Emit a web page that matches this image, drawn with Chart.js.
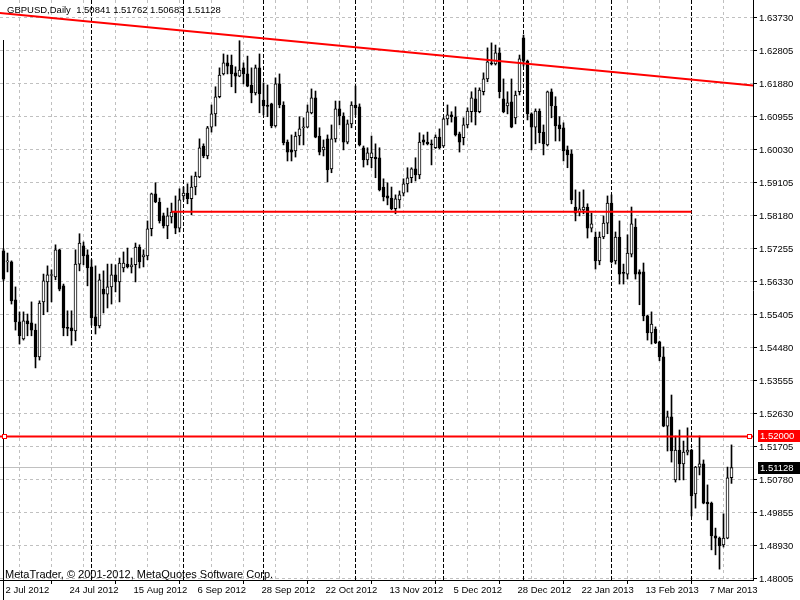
<!DOCTYPE html>
<html>
<head>
<meta charset="utf-8">
<script src="https://cdn.jsdelivr.net/npm/chart.js@4.4.0/dist/chart.umd.min.js"></script>
<style>
    html, body { margin: 0; padding: 0; background: #fff; }
    #wrap { position: relative; width: 800px; height: 600px; }
</style>
</head>
<body>
<div id="wrap"><canvas id="gbpusdChart"></canvas></div>
<script>
// GBPUSD daily candles, 2 Jul 2012 .. 15 Mar 2013
const opens = [
    1.5720, 1.5689, 1.5689, 1.5583, 1.5521, 1.5473, 1.5524, 1.5518, 1.5498, 1.5423,
    1.5577, 1.5633, 1.5651, 1.5647, 1.5723, 1.5622, 1.5504, 1.5504, 1.5496, 1.5683,
    1.5734, 1.5709, 1.5675, 1.5535, 1.5510, 1.5613, 1.5599, 1.5619, 1.5653, 1.5633,
    1.5672, 1.5683, 1.5675, 1.5681, 1.5731, 1.5703, 1.5706, 1.5782, 1.5880, 1.5857,
    1.5818, 1.5790, 1.5815, 1.5829, 1.5784, 1.5874, 1.5882, 1.5866, 1.5899, 1.5927,
    1.6014, 1.5986, 1.6067, 1.6104, 1.6152, 1.6216, 1.6247, 1.6241, 1.6219, 1.6210,
    1.6233, 1.6216, 1.6185, 1.6163, 1.6233, 1.6143, 1.6126, 1.6132, 1.6070, 1.6188,
    1.6129, 1.6025, 1.6003, 1.6000, 1.6042, 1.6065, 1.6067, 1.6107, 1.6149, 1.6042,
    1.6003, 1.6034, 1.5950, 1.6034, 1.6118, 1.6098, 1.6025, 1.6076, 1.6129, 1.6124,
    1.6009, 1.5975, 1.5981, 1.5983, 1.5981, 1.5899, 1.5874, 1.5868, 1.5838, 1.5863,
    1.5882, 1.5908, 1.5925, 1.5950, 1.5933, 1.6031, 1.6025, 1.6020, 1.6009, 1.6039,
    1.6014, 1.6090, 1.6101, 1.6096, 1.6048, 1.6037, 1.6073, 1.6110, 1.6146, 1.6110,
    1.6166, 1.6202, 1.6247, 1.6244, 1.6275, 1.6146, 1.6126, 1.6138, 1.6093, 1.6166,
    1.6317, 1.6252, 1.6104, 1.6067, 1.6112, 1.6053, 1.6017, 1.6166, 1.6126, 1.6073,
    1.6065, 1.6003, 1.5992, 1.5843, 1.5829, 1.5835, 1.5843, 1.5784, 1.5759, 1.5692,
    1.5759, 1.5798, 1.5854, 1.5692, 1.5759, 1.5658, 1.5655, 1.5711, 1.5787, 1.5661,
    1.5661, 1.5538, 1.5490, 1.5501, 1.5465, 1.5423, 1.5229, 1.5255, 1.5078, 1.5162,
    1.5123, 1.5156, 1.5162, 1.5039, 1.5114, 1.5123, 1.5016, 1.5013, 1.4921, 1.4915,
    1.4896, 1.4915, 1.50841
];
const highs = [
    1.5726, 1.5714, 1.5692, 1.5619, 1.5549, 1.5549, 1.5543, 1.5577, 1.5515, 1.5580,
    1.5655, 1.5678, 1.5667, 1.5737, 1.5725, 1.5627, 1.5552, 1.5552, 1.5723, 1.5768,
    1.5745, 1.5723, 1.5695, 1.5678, 1.5655, 1.5664, 1.5683, 1.5683, 1.5681, 1.5700,
    1.5717, 1.5728, 1.5700, 1.5742, 1.5737, 1.5723, 1.5804, 1.5882, 1.5911, 1.5868,
    1.5826, 1.5840, 1.5854, 1.5874, 1.5894, 1.5899, 1.5908, 1.5930, 1.5941, 1.6034,
    1.6020, 1.6069, 1.6129, 1.6180, 1.6233, 1.6272, 1.6269, 1.6269, 1.6236, 1.6309,
    1.6247, 1.6266, 1.6233, 1.6241, 1.6272, 1.6191, 1.6185, 1.6134, 1.6205, 1.6216,
    1.6138, 1.6031, 1.6045, 1.6053, 1.6096, 1.6093, 1.6129, 1.6174, 1.6168, 1.6065,
    1.6031, 1.6045, 1.6073, 1.6140, 1.6140, 1.6107, 1.6087, 1.6138, 1.6182, 1.6132,
    1.6014, 1.6009, 1.6042, 1.6020, 1.6009, 1.5922, 1.5911, 1.5899, 1.5877, 1.5888,
    1.5922, 1.5953, 1.5953, 1.5981, 1.6051, 1.6045, 1.6053, 1.6031, 1.6045, 1.6062,
    1.6093, 1.6129, 1.6110, 1.6124, 1.6053, 1.6093, 1.6121, 1.6166, 1.6177, 1.6177,
    1.6219, 1.6289, 1.6303, 1.6297, 1.6289, 1.6202, 1.6166, 1.6202, 1.6168, 1.6269,
    1.6325, 1.6255, 1.6107, 1.6118, 1.6118, 1.6073, 1.6168, 1.6174, 1.6152, 1.6096,
    1.6079, 1.6014, 1.6003, 1.5891, 1.5885, 1.5891, 1.5852, 1.5826, 1.5773, 1.5773,
    1.5818, 1.5874, 1.5877, 1.5773, 1.5804, 1.5683, 1.5765, 1.5843, 1.5810, 1.5667,
    1.5686, 1.5540, 1.5549, 1.5507, 1.5467, 1.5451, 1.5271, 1.5316, 1.5201, 1.5218,
    1.5187, 1.5224, 1.5164, 1.5116, 1.5201, 1.5134, 1.5064, 1.5016, 1.4943, 1.4918,
    1.4983, 1.5114, 1.51762
];
const lows = [
    1.5636, 1.5661, 1.5571, 1.5498, 1.5459, 1.5470, 1.5482, 1.5482, 1.5392, 1.5414,
    1.5541, 1.5549, 1.5577, 1.5639, 1.5608, 1.5482, 1.5482, 1.5456, 1.5468, 1.5664,
    1.5681, 1.5622, 1.5512, 1.5487, 1.5504, 1.5546, 1.5560, 1.5571, 1.5605, 1.5577,
    1.5661, 1.5672, 1.5658, 1.5633, 1.5672, 1.5675, 1.5695, 1.5762, 1.5855, 1.5798,
    1.5784, 1.5754, 1.5798, 1.5768, 1.5773, 1.5863, 1.5852, 1.5821, 1.5877, 1.5925,
    1.5981, 1.5978, 1.6053, 1.6070, 1.6149, 1.6213, 1.6216, 1.6180, 1.6163, 1.6208,
    1.6188, 1.6180, 1.6135, 1.6157, 1.6107, 1.6101, 1.6096, 1.6065, 1.6067, 1.6121,
    1.6017, 1.5972, 1.5972, 1.5983, 1.6017, 1.6017, 1.6065, 1.6104, 1.6037, 1.5989,
    1.5986, 1.5913, 1.5939, 1.6025, 1.6073, 1.6003, 1.6020, 1.6065, 1.6101, 1.6014,
    1.5955, 1.5961, 1.5953, 1.5925, 1.5888, 1.5860, 1.5849, 1.5835, 1.5824, 1.5840,
    1.5874, 1.5885, 1.5911, 1.5916, 1.5922, 1.6017, 1.6017, 1.5961, 1.6007, 1.6006,
    1.6011, 1.6073, 1.6081, 1.6042, 1.5997, 1.6017, 1.6065, 1.6081, 1.6073, 1.6107,
    1.6157, 1.6194, 1.6241, 1.6241, 1.6149, 1.6107, 1.6104, 1.6065, 1.6076, 1.6157,
    1.6238, 1.6087, 1.6003, 1.6020, 1.6023, 1.5989, 1.6014, 1.6093, 1.6028, 1.6028,
    1.5972, 1.5953, 1.5852, 1.5804, 1.5818, 1.5824, 1.5756, 1.5773, 1.5669, 1.5681,
    1.5754, 1.5768, 1.5686, 1.5683, 1.5627, 1.5627, 1.5641, 1.5703, 1.5641, 1.5569,
    1.5524, 1.5470, 1.5459, 1.5460, 1.5412, 1.5227, 1.5159, 1.5128, 1.5072, 1.5078,
    1.5078, 1.5148, 1.4977, 1.4999, 1.5092, 1.5011, 1.4966, 1.4882, 1.4868, 1.4828,
    1.4890, 1.4913, 1.50683
];
const closes = [
    1.5641, 1.5690, 1.5580, 1.5521, 1.5482, 1.5524, 1.5515, 1.5498, 1.5423, 1.5574,
    1.5636, 1.5653, 1.5653, 1.5723, 1.5613, 1.5504, 1.5503, 1.5496, 1.5683, 1.5742,
    1.5706, 1.5672, 1.5532, 1.5510, 1.5639, 1.5599, 1.5619, 1.5653, 1.5633, 1.5686,
    1.5686, 1.5675, 1.5681, 1.5731, 1.5689, 1.5709, 1.5782, 1.5880, 1.5857, 1.5804,
    1.5790, 1.5818, 1.5829, 1.5784, 1.5863, 1.5882, 1.5866, 1.5899, 1.5930, 1.6009,
    1.5986, 1.6065, 1.6104, 1.6152, 1.6213, 1.6247, 1.6238, 1.6216, 1.6210, 1.6227,
    1.6216, 1.6182, 1.6163, 1.6233, 1.6160, 1.6126, 1.6125, 1.6070, 1.6188, 1.6129,
    1.6023, 1.5997, 1.5997, 1.6042, 1.6062, 1.6067, 1.6110, 1.6149, 1.6039, 1.5997,
    1.6011, 1.5947, 1.6034, 1.6118, 1.6098, 1.6025, 1.6076, 1.6129, 1.6121, 1.6017,
    1.5975, 1.5995, 1.5995, 1.5978, 1.5891, 1.5871, 1.5868, 1.5838, 1.5866, 1.5877,
    1.5908, 1.5925, 1.5950, 1.5933, 1.6025, 1.6025, 1.6020, 1.6017, 1.6039, 1.6009,
    1.6090, 1.6101, 1.6096, 1.6045, 1.6025, 1.6073, 1.6112, 1.6149, 1.6110, 1.6171,
    1.6202, 1.6250, 1.6244, 1.6275, 1.6166, 1.6110, 1.6135, 1.6067, 1.6157, 1.6258,
    1.6252, 1.6104, 1.6067, 1.6112, 1.6051, 1.6020, 1.6166, 1.6126, 1.6070, 1.6062,
    1.6000, 1.5989, 1.5863, 1.5826, 1.5838, 1.5843, 1.5784, 1.5796, 1.5692, 1.5759,
    1.5798, 1.5854, 1.5689, 1.5759, 1.5655, 1.5657, 1.5714, 1.5796, 1.5655, 1.5655,
    1.5538, 1.5490, 1.5515, 1.5462, 1.5423, 1.5229, 1.5255, 1.5159, 1.5162, 1.5123,
    1.5156, 1.5162, 1.5033, 1.5114, 1.5123, 1.5013, 1.5011, 1.4921, 1.4915, 1.4893,
    1.4915, 1.5084, 1.51128
];

// time axis: one label every 16 bars, grid every 8 bars
const dateLabels = ['2 Jul 2012', '24 Jul 2012', '15 Aug 2012', '6 Sep 2012', '28 Sep 2012', '22 Oct 2012',
    '13 Nov 2012', '5 Dec 2012', '28 Dec 2012', '22 Jan 2013', '13 Feb 2013', '7 Mar 2013'];
const priceTicks = [1.48005, 1.48930, 1.49855, 1.50780, 1.51705, 1.52630, 1.53555, 1.54480, 1.55405,
    1.56330, 1.57255, 1.58180, 1.59105, 1.60030, 1.60955, 1.61880, 1.62805, 1.63730];

// month separators (bar index of 1 Aug, 3 Sep, 1 Oct, 1 Nov, 3 Dec, 2 Jan, 1 Feb, 1 Mar)
const monthStarts = [22, 45, 65, 88, 110, 130, 152, 172];

// drawn objects
const trendLine = [{ x: -1, y: 1.6387 }, { x: 189, y: 1.6182 }];
const supportLine = [{ x: 42, y: 1.5830 }, { x: 172, y: 1.5830 }];
const levelPrice = 1.52000;
const bidPrice = 1.51128;

const FONT = '"Liberation Sans", Arial, sans-serif';

const noPadding = (scale) => {
    scale.paddingTop = 0;
    scale.paddingBottom = 0;
    scale.paddingLeft = 0;
    scale.paddingRight = 0;
};

const candleChart = () => {
    const ctx = document.getElementById('gbpusdChart').getContext('2d');
    const idx = opens.map((o, i) => i);
    const last = opens.length - 1;

    const overlay = {
        id: 'overlay',
        beforeDatasetsDraw(chart) {
            const { ctx, chartArea: a, scales: { x } } = chart;
            ctx.save();
            ctx.strokeStyle = '#000';
            ctx.lineWidth = 1;
            ctx.setLineDash([4, 2]);
            monthStarts.forEach(i => {
                const px = Math.round(x.getPixelForValue(i) - 0.5) + 0.5;
                ctx.beginPath();
                ctx.moveTo(px, a.top);
                ctx.lineTo(px, a.bottom);
                ctx.stroke();
            });
            ctx.restore();
        },
        afterDraw(chart) {
            const { ctx, chartArea: a, scales: { x, y } } = chart;
            ctx.save();
            ctx.strokeStyle = '#000';
            ctx.lineWidth = 1;
            ctx.beginPath();
            ctx.moveTo(a.right + 0.5, 0);
            ctx.lineTo(a.right + 0.5, a.bottom + 1);
            ctx.moveTo(0, a.bottom + 0.5);
            ctx.lineTo(a.right + 1, a.bottom + 0.5);
            const x0 = Math.round(x.getPixelForValue(0) - 0.5) + 0.5;
            ctx.moveTo(x0, 40);
            ctx.lineTo(x0, 600);
            ctx.stroke();

            // selection squares on the 1.52 level
            const ly = Math.round(y.getPixelForValue(levelPrice));
            ctx.fillStyle = '#fff';
            ctx.strokeStyle = '#ff0000';
            [4, a.right - 4].forEach(cx => {
                ctx.fillRect(cx - 2, ly - 2, 5, 5);
                ctx.strokeRect(cx - 1.5, ly - 1.5, 4, 4);
            });

            // price tags on the axis
            const tag = (price, bg) => {
                const py = Math.round(y.getPixelForValue(price));
                ctx.fillStyle = bg;
                ctx.fillRect(a.right + 5, py - 6, 800 - a.right - 5, 12);
                ctx.fillStyle = '#fff';
                ctx.font = '9.5px ' + FONT;
                ctx.textBaseline = 'middle';
                ctx.textAlign = 'left';
                ctx.fillText(price.toFixed(5), a.right + 7, py + 0.5);
            };
            tag(levelPrice, '#ff0000');
            tag(bidPrice, '#000000');

            ctx.fillStyle = '#000';
            ctx.font = '9.5px ' + FONT;
            ctx.textBaseline = 'middle';
            ctx.fillText('GBPUSD,Daily  ' + [opens[last], highs[last], lows[last], closes[last]].map(v => v.toFixed(5)).join(' '), 7, 10);
            ctx.font = '11px ' + FONT;
            ctx.textBaseline = 'alphabetic';
            ctx.fillText('MetaTrader, \u00a9 2001-2012, MetaQuotes Software Corp.', 5, 578);
            ctx.restore();
        }
    };

    new Chart(ctx, {
        type: 'bar',
        data: {
            datasets: [
                {
                    label: 'bid',
                    type: 'line',
                    data: [{ x: -1, y: bidPrice }, { x: 189, y: bidPrice }],
                    borderColor: '#c0c0c0',
                    borderWidth: 1,
                    pointRadius: 0,
                    order: 4,
                },
                {
                    label: 'wick',
                    data: idx.map(i => ({ x: i, y: [lows[i], highs[i]] })),
                    backgroundColor: '#000',
                    barThickness: 1,
                    grouped: false,
                    order: 3,
                },
                {
                    label: 'body',
                    data: idx.map(i => ({ x: i, y: [opens[i], closes[i]] })),
                    backgroundColor: idx.map(i => closes[i] >= opens[i] ? '#ffffff' : '#000000'),
                    borderColor: '#000',
                    borderWidth: 1,
                    borderSkipped: false,
                    barThickness: 3,
                    minBarLength: 1,
                    grouped: false,
                    order: 2,
                },
                {
                    label: 'trend',
                    type: 'line',
                    data: trendLine,
                    borderColor: '#ff0000',
                    borderWidth: 2,
                    pointRadius: 0,
                    order: 1,
                },
                {
                    label: 'support',
                    type: 'line',
                    data: supportLine,
                    borderColor: '#ff0000',
                    borderWidth: 2,
                    pointRadius: 0,
                    order: 1,
                },
                {
                    label: 'level',
                    type: 'line',
                    data: [{ x: -1, y: levelPrice }, { x: 189, y: levelPrice }],
                    borderColor: '#ff0000',
                    borderWidth: 2,
                    pointRadius: 0,
                    order: 1,
                }
            ]
        },
        options: {
            responsive: true,
            maintainAspectRatio: false,
            animation: false,
            devicePixelRatio: 1,
            layout: { padding: 0 },
            scales: {
                x: {
                    type: 'linear',
                    min: -0.875,
                    max: 187.375,
                    offset: false,
                    afterBuildTicks: (scale) => {
                        scale.ticks = dateLabels.flatMap((d, k) => [{ value: k * 16 }, { value: k * 16 + 8 }]);
                    },
                    afterFit: (scale) => { scale.height = 20; noPadding(scale); },
                    ticks: {
                        autoSkip: false,
                        maxRotation: 0,
                        align: 'start',
                        labelOffset: 2,
                        padding: 1,
                        color: '#000',
                        font: { family: FONT, size: 9.5 },
                        callback: (v) => v % 16 === 0 ? dateLabels[v / 16] : '',
                    },
                    grid: {
                        color: '#c0c0c0',
                        lineWidth: 1,
                        tickLength: 4,
                        tickColor: (c) => c.tick && c.tick.value % 16 === 0 ? '#000' : 'rgba(0,0,0,0)',
                    },
                    border: { display: false, dash: [3, 3] },
                },
                y: {
                    position: 'right',
                    min: 1.47975,
                    max: 1.64232,
                    afterBuildTicks: (scale) => {
                        scale.ticks = priceTicks.map(v => ({ value: v }));
                    },
                    afterFit: (scale) => { scale.width = 47; noPadding(scale); },
                    ticks: {
                        autoSkip: false,
                        padding: 2,
                        color: '#000',
                        font: { family: FONT, size: 9.5 },
                        callback: (v) => v.toFixed(5),
                    },
                    grid: {
                        color: '#c0c0c0',
                        lineWidth: 1,
                        tickLength: 4,
                        tickColor: '#000',
                    },
                    border: { display: false, dash: [3, 3] },
                }
            },
            plugins: {
                legend: { display: false },
                tooltip: { enabled: false },
                title: { display: false },
            }
        },
        plugins: [overlay]
    });
}

document.addEventListener('DOMContentLoaded', candleChart);
</script>
</body>
</html>
